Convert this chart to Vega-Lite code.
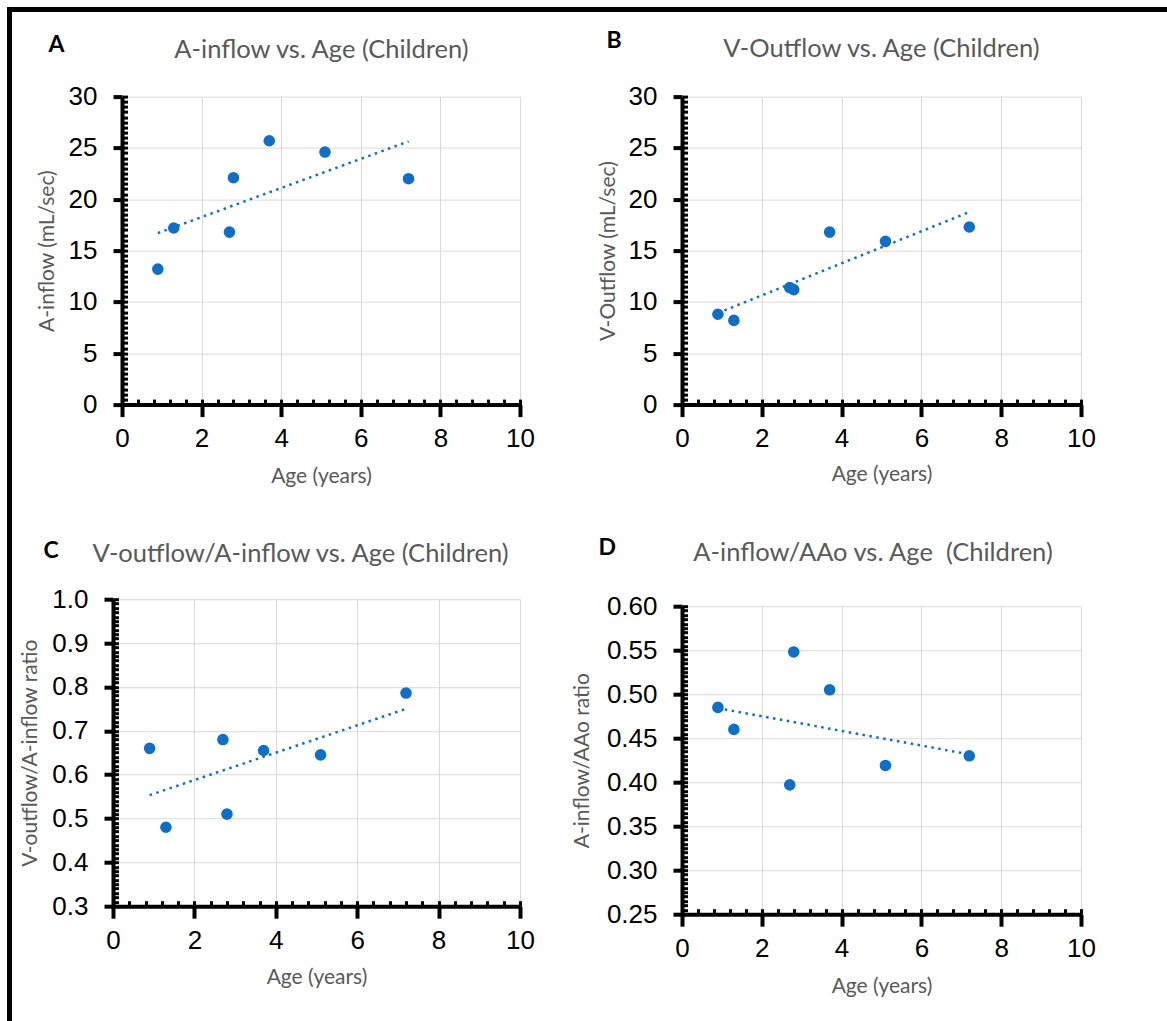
{
  "$schema": "https://vega.github.io/schema/vega-lite/v6.json",
  "padding": {"left": 7, "top": 7, "right": 0, "bottom": 0},
  "background": "white",
  "datasets": {
    "kids": [
      {"age": 0.9, "a_inflow": 13.2, "v_outflow": 8.8, "v_a_ratio": 0.66, "a_aao_ratio": 0.485},
      {"age": 1.3, "a_inflow": 17.2, "v_outflow": 8.2, "v_a_ratio": 0.48, "a_aao_ratio": 0.46},
      {"age": 2.7, "a_inflow": 16.8, "v_outflow": 11.4, "v_a_ratio": 0.68, "a_aao_ratio": 0.397},
      {"age": 2.8, "a_inflow": 22.1, "v_outflow": 11.2, "v_a_ratio": 0.51, "a_aao_ratio": 0.548},
      {"age": 3.7, "a_inflow": 25.7, "v_outflow": 16.8, "v_a_ratio": 0.655, "a_aao_ratio": 0.505},
      {"age": 5.1, "a_inflow": 24.6, "v_outflow": 15.9, "v_a_ratio": 0.645, "a_aao_ratio": 0.419},
      {"age": 7.2, "a_inflow": 22.0, "v_outflow": 17.3, "v_a_ratio": 0.786, "a_aao_ratio": 0.43}
    ],
    "blank": [{}]
  },
  "config": {
    "view": {"stroke": null},
    "axis": {
      "labelFont": "Liberation Sans", "labelFontSize": 26, "labelColor": "black",
      "titleFont": "Lato", "titleFontSize": 21, "titleColor": "#595959", "titleFontWeight": "normal",
      "domainColor": "black", "tickColor": "black", "gridColor": "#d9d9d9", "gridWidth": 1
    }
  },
  "spacing": 0,
  "bounds": "full",
  "hconcat": [
    {"width": 5, "height": 1014, "view": {"fill": "black", "stroke": null}, "data": {"name": "blank"}, "mark": {"type": "point", "size": 0, "opacity": 0}, "encoding": {}},
    {
      "spacing": 17.6,
      "bounds": "full",
      "vconcat": [
        {"width": 1155, "height": 5, "view": {"fill": "black", "stroke": null}, "data": {"name": "blank"}, "mark": {"type": "point", "size": 0, "opacity": 0}, "encoding": {}},
        {
          "spacing": 19.6,
          "bounds": "full",
          "vconcat": [
            {
              "spacing": 0,
              "bounds": "flush",
              "hconcat": [
                {"width": 110, "height": 420, "data": {"name": "blank"}, "mark": {"type": "point", "size": 0, "opacity": 0}, "encoding": {}},
                {
                  "width": 398, "height": 308,
                  "data": {"name": "kids"},
                  "layer": [
                    {
                      "transform": [{"regression": "a_inflow", "on": "age"}],
                      "mark": {"type": "line", "color": "#0F6FC6", "strokeWidth": 2.5, "strokeDash": [2.5, 4.5]},
                      "encoding": {
                        "x": {"field": "age", "type": "quantitative", "scale": {"domain": [0, 10], "nice": false},
                          "axis": {"orient": "bottom", "values": [0,0.4,0.8,1.2,1.6,2,2.4,2.8,3.2,3.6,4,4.4,4.8,5.2,5.6,6,6.4,6.8,7.2,7.6,8,8.4,8.8,9.2,9.6,10], "tickSize": -5.5, "tickWidth": 3, "domain": false, "labels": false, "grid": false,
                            "title": "A", "titleX": -74, "titleY": -353, "titleAlign": "left", "titleBaseline": "alphabetic", "titleFontWeight": "bold", "titleColor": "black", "titleFontSize": 23}},
                        "y": {"field": "a_inflow", "type": "quantitative", "scale": {"domain": [0, 30], "nice": false},
                          "axis": {"orient": "left", "tickCount": 60, "tickSize": -5.5, "tickWidth": 3, "domain": false, "labels": false, "grid": false,
                            "title": "A-inflow vs. Age (Children)", "titleAngle": 0, "titleX": 199, "titleY": -39, "titleAlign": "center", "titleBaseline": "alphabetic", "titleFontSize": 25.5}}
                      }
                    },
                    {
                      "mark": {"type": "point", "filled": true, "size": 135, "color": "#0F6FC6", "opacity": 1},
                      "encoding": {
                        "x": {"field": "age", "type": "quantitative", "scale": {"domain": [0, 10], "nice": false},
                          "axis": {"orient": "bottom", "values": [0,2,4,6,8,10], "tickSize": 12, "tickWidth": 4, "domainWidth": 4, "labelPadding": 9, "grid": true, "labelOverlap": false, "labelFlush": false,
                            "title": "Age (years)", "titleX": 199, "titleY": 78, "titleAlign": "center", "titleBaseline": "alphabetic"}},
                        "y": {"field": "a_inflow", "type": "quantitative", "scale": {"domain": [0, 30], "nice": false},
                          "axis": {"orient": "left", "values": [0,5,10,15,20,25,30], "format": "d", "tickSize": 9, "tickWidth": 4, "domainWidth": 4, "labelPadding": 16, "grid": true, "labelOverlap": false, "labelFlush": false,
                            "title": "A-inflow (mL/sec)", "titleX": -69, "titleY": 154, "titleAngle": 270, "titleAlign": "center", "titleBaseline": "alphabetic"}}
                      }
                    }
                  ],
                  "resolve": {"axis": {"x": "independent", "y": "independent"}}
                },
                {"width": 162, "height": 1, "data": {"name": "blank"}, "mark": {"type": "point", "size": 0, "opacity": 0}, "encoding": {}},
                {
                  "width": 399, "height": 308,
                  "data": {"name": "kids"},
                  "layer": [
                    {
                      "transform": [{"regression": "v_outflow", "on": "age"}],
                      "mark": {"type": "line", "color": "#0F6FC6", "strokeWidth": 2.5, "strokeDash": [2.5, 4.5]},
                      "encoding": {
                        "x": {"field": "age", "type": "quantitative", "scale": {"domain": [0, 10], "nice": false},
                          "axis": {"orient": "bottom", "values": [0,0.4,0.8,1.2,1.6,2,2.4,2.8,3.2,3.6,4,4.4,4.8,5.2,5.6,6,6.4,6.8,7.2,7.6,8,8.4,8.8,9.2,9.6,10], "tickSize": -5.5, "tickWidth": 3, "domain": false, "labels": false, "grid": false,
                            "title": "B", "titleX": -76, "titleY": -357, "titleAlign": "left", "titleBaseline": "alphabetic", "titleFontWeight": "bold", "titleColor": "black", "titleFontSize": 23}},
                        "y": {"field": "v_outflow", "type": "quantitative", "scale": {"domain": [0, 30], "nice": false},
                          "axis": {"orient": "left", "tickCount": 60, "tickSize": -5.5, "tickWidth": 3, "domain": false, "labels": false, "grid": false,
                            "title": "V-Outflow vs. Age (Children)", "titleAngle": 0, "titleX": 199, "titleY": -40, "titleAlign": "center", "titleBaseline": "alphabetic", "titleFontSize": 25.5}}
                      }
                    },
                    {
                      "mark": {"type": "point", "filled": true, "size": 135, "color": "#0F6FC6", "opacity": 1},
                      "encoding": {
                        "x": {"field": "age", "type": "quantitative", "scale": {"domain": [0, 10], "nice": false},
                          "axis": {"orient": "bottom", "values": [0,2,4,6,8,10], "tickSize": 12, "tickWidth": 4, "domainWidth": 4, "labelPadding": 9, "grid": true, "labelOverlap": false, "labelFlush": false,
                            "title": "Age (years)", "titleX": 199.5, "titleY": 76, "titleAlign": "center", "titleBaseline": "alphabetic"}},
                        "y": {"field": "v_outflow", "type": "quantitative", "scale": {"domain": [0, 30], "nice": false},
                          "axis": {"orient": "left", "values": [0,5,10,15,20,25,30], "format": "d", "tickSize": 9, "tickWidth": 4, "domainWidth": 4, "labelPadding": 16, "grid": true, "labelOverlap": false, "labelFlush": false,
                            "title": "V-Outflow (mL/sec)", "titleX": -68, "titleY": 154, "titleAngle": 270, "titleAlign": "center", "titleBaseline": "alphabetic"}}
                      }
                    }
                  ],
                  "resolve": {"axis": {"x": "independent", "y": "independent"}}
                }
              ]
            },
            {
              "spacing": 0,
              "bounds": "flush",
              "hconcat": [
                {"width": 101, "height": 1, "data": {"name": "blank"}, "mark": {"type": "point", "size": 0, "opacity": 0}, "encoding": {}},
                {
                  "width": 407, "height": 307,
                  "data": {"name": "kids"},
                  "layer": [
                    {
                      "transform": [{"regression": "v_a_ratio", "on": "age"}],
                      "mark": {"type": "line", "color": "#0F6FC6", "strokeWidth": 2.5, "strokeDash": [2.5, 4.5]},
                      "encoding": {
                        "x": {"field": "age", "type": "quantitative", "scale": {"domain": [0, 10], "nice": false},
                          "axis": {"orient": "bottom", "values": [0,0.4,0.8,1.2,1.6,2,2.4,2.8,3.2,3.6,4,4.4,4.8,5.2,5.6,6,6.4,6.8,7.2,7.6,8,8.4,8.8,9.2,9.6,10], "tickSize": -5.5, "tickWidth": 3, "domain": false, "labels": false, "grid": false,
                            "title": "C", "titleX": -70, "titleY": -349, "titleAlign": "left", "titleBaseline": "alphabetic", "titleFontWeight": "bold", "titleColor": "black", "titleFontSize": 23}},
                        "y": {"field": "v_a_ratio", "type": "quantitative", "scale": {"domain": [0.3, 1.0], "nice": false, "zero": false},
                          "axis": {"orient": "left", "tickCount": 70, "tickSize": -5.5, "tickWidth": 3, "domain": false, "labels": false, "grid": false,
                            "title": "V-outflow/A-inflow vs. Age (Children)", "titleAngle": 0, "titleX": 187, "titleY": -38, "titleAlign": "center", "titleBaseline": "alphabetic", "titleFontSize": 25.5}}
                      }
                    },
                    {
                      "mark": {"type": "point", "filled": true, "size": 135, "color": "#0F6FC6", "opacity": 1},
                      "encoding": {
                        "x": {"field": "age", "type": "quantitative", "scale": {"domain": [0, 10], "nice": false},
                          "axis": {"orient": "bottom", "values": [0,2,4,6,8,10], "tickSize": 12, "tickWidth": 4, "domainWidth": 4, "labelPadding": 9, "grid": true, "labelOverlap": false, "labelFlush": false,
                            "title": "Age (years)", "titleX": 203.5, "titleY": 77, "titleAlign": "center", "titleBaseline": "alphabetic"}},
                        "y": {"field": "v_a_ratio", "type": "quantitative", "scale": {"domain": [0.3, 1.0], "nice": false, "zero": false},
                          "axis": {"orient": "left", "values": [0.3,0.4,0.5,0.6,0.7,0.8,0.9,1.0], "format": ".1f", "tickSize": 9, "tickWidth": 4, "domainWidth": 4, "labelPadding": 16, "grid": true, "labelOverlap": false, "labelFlush": false,
                            "title": "V-outflow/A-inflow ratio", "titleX": -77, "titleY": 153.5, "titleAngle": 270, "titleAlign": "center", "titleBaseline": "alphabetic"}}
                      }
                    }
                  ],
                  "resolve": {"axis": {"x": "independent", "y": "independent"}}
                },
                {"width": 162, "height": 1, "data": {"name": "blank"}, "mark": {"type": "point", "size": 0, "opacity": 0}, "encoding": {}},
                {
                  "spacing": 0,
                  "bounds": "flush",
                  "vconcat": [
                    {"width": 1, "height": 7, "data": {"name": "blank"}, "mark": {"type": "point", "size": 0, "opacity": 0}, "encoding": {}},
                    {
                      "width": 399, "height": 308,
                      "data": {"name": "kids"},
                      "layer": [
                        {
                          "transform": [{"regression": "a_aao_ratio", "on": "age"}],
                          "mark": {"type": "line", "color": "#0F6FC6", "strokeWidth": 2.5, "strokeDash": [2.5, 4.5]},
                          "encoding": {
                            "x": {"field": "age", "type": "quantitative", "scale": {"domain": [0, 10], "nice": false},
                              "axis": {"orient": "bottom", "values": [0,0.4,0.8,1.2,1.6,2,2.4,2.8,3.2,3.6,4,4.4,4.8,5.2,5.6,6,6.4,6.8,7.2,7.6,8,8.4,8.8,9.2,9.6,10], "tickSize": -5.5, "tickWidth": 3, "domain": false, "labels": false, "grid": false,
                                "title": "D", "titleX": -84, "titleY": -360, "titleAlign": "left", "titleBaseline": "alphabetic", "titleFontWeight": "bold", "titleColor": "black", "titleFontSize": 23}},
                            "y": {"field": "a_aao_ratio", "type": "quantitative", "scale": {"domain": [0.25, 0.6], "nice": false, "zero": false},
                              "axis": {"orient": "left", "tickCount": 70, "tickSize": -5.5, "tickWidth": 3, "domain": false, "labels": false, "grid": false,
                                "title": "A-inflow/AAo vs. Age\u00a0 (Children)", "titleAngle": 0, "titleX": 190.5, "titleY": -46, "titleAlign": "center", "titleBaseline": "alphabetic", "titleFontSize": 25.5}}
                          }
                        },
                        {
                          "mark": {"type": "point", "filled": true, "size": 135, "color": "#0F6FC6", "opacity": 1},
                          "encoding": {
                            "x": {"field": "age", "type": "quantitative", "scale": {"domain": [0, 10], "nice": false},
                              "axis": {"orient": "bottom", "values": [0,2,4,6,8,10], "tickSize": 12, "tickWidth": 4, "domainWidth": 4, "labelPadding": 9, "grid": true, "labelOverlap": false, "labelFlush": false,
                                "title": "Age (years)", "titleX": 199.5, "titleY": 78, "titleAlign": "center", "titleBaseline": "alphabetic"}},
                            "y": {"field": "a_aao_ratio", "type": "quantitative", "scale": {"domain": [0.25, 0.6], "nice": false, "zero": false},
                              "axis": {"orient": "left", "values": [0.25,0.3,0.35,0.4,0.45,0.5,0.55,0.6], "format": ".2f", "tickSize": 9, "tickWidth": 4, "domainWidth": 4, "labelPadding": 16, "grid": true, "labelOverlap": false, "labelFlush": false,
                                "title": "A-inflow/AAo ratio", "titleX": -94, "titleY": 154, "titleAngle": 270, "titleAlign": "center", "titleBaseline": "alphabetic"}}
                          }
                        }
                      ],
                      "resolve": {"axis": {"x": "independent", "y": "independent"}}
                    }
                  ]
                }
              ]
            }
          ]
        }
      ]
    }
  ]
}
